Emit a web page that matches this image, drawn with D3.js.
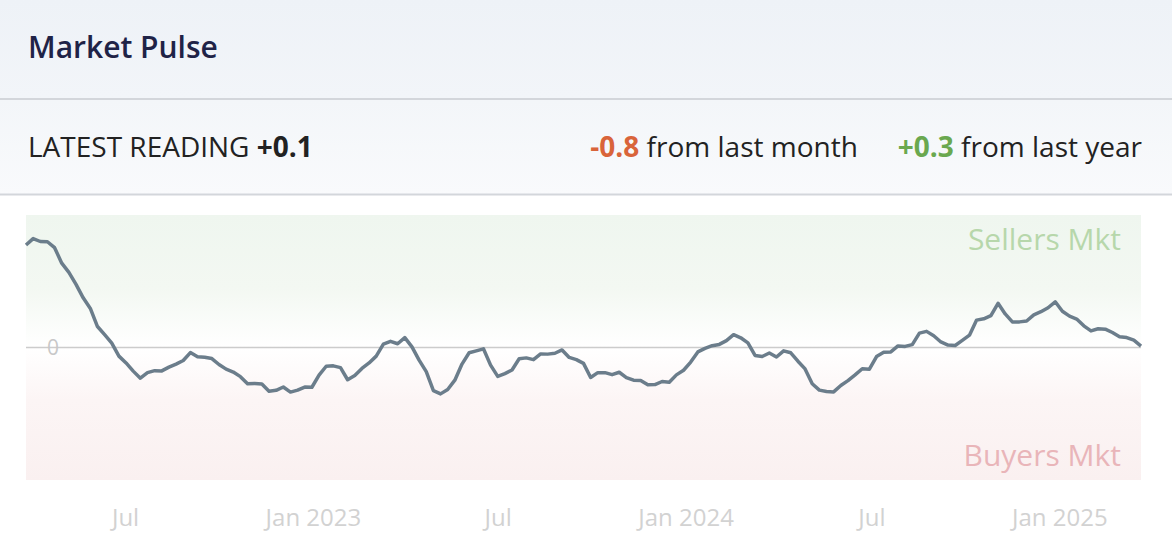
<!DOCTYPE html>
<html>
<head>
<meta charset="utf-8">
<script src="https://cdn.jsdelivr.net/npm/d3@7"></script>
<style>
  body { margin: 0; background: #fff; font-family: "Open Sans", sans-serif; }
  svg { display: block; }
</style>
</head>
<body>
<div id="pulse"></div>
<script>
// weekly readings, first week ending Saturday 2022-03-26
var startDate = "2022-03-26"
var values = [
  4.64, 4.93, 4.80, 4.79, 4.52, 3.82, 3.40, 2.86, 2.25, 1.77,
  0.95, 0.58, 0.20, -0.39, -0.70, -1.07, -1.39, -1.14, -1.05, -1.06,
  -0.89, -0.75, -0.59, -0.23, -0.42, -0.44, -0.50, -0.77, -0.98, -1.11,
  -1.32, -1.64, -1.63, -1.65, -1.98, -1.94, -1.79, -2.02, -1.93, -1.79,
  -1.80, -1.25, -0.85, -0.83, -0.91, -1.46, -1.27, -0.95, -0.70, -0.39,
  0.15, 0.28, 0.17, 0.45, 0.03, -0.57, -1.09, -1.95, -2.10, -1.90,
  -1.48, -0.75, -0.24, -0.15, -0.06, -0.80, -1.31, -1.18, -1.02, -0.51,
  -0.47, -0.55, -0.29, -0.30, -0.26, -0.11, -0.45, -0.55, -0.72, -1.36,
  -1.14, -1.14, -1.23, -1.12, -1.36, -1.48, -1.49, -1.69, -1.68, -1.54,
  -1.57, -1.24, -1.03, -0.66, -0.20, -0.04, 0.08, 0.14, 0.31, 0.58,
  0.44, 0.21, -0.36, -0.41, -0.25, -0.43, -0.15, -0.24, -0.62, -0.97,
  -1.64, -1.93, -1.99, -2.01, -1.72, -1.50, -1.24, -0.96, -0.98, -0.41,
  -0.22, -0.20, 0.07, 0.05, 0.13, 0.65, 0.73, 0.53, 0.25, 0.11,
  0.09, 0.32, 0.56, 1.24, 1.30, 1.44, 2.00, 1.52, 1.16, 1.16,
  1.20, 1.48, 1.62, 1.80, 2.07, 1.64, 1.42, 1.29, 0.98, 0.75,
  0.85, 0.83, 0.68, 0.49, 0.45, 0.33, 0.06
]
var tickDates = ["2022-07-01", "2023-01-01", "2023-07-01", "2024-01-01", "2024-07-01", "2025-01-01"]
var tickLabels = ["Jul", "Jan 2023", "Jul", "Jan 2024", "Jul", "Jan 2025"]
var latest = "+0.1"
var monthChange = "-0.8"
var yearChange = "+0.3"

var width = 1172
    height = 560

var parse = d3.timeParse("%Y-%m-%d")
var weeks = d3.timeSaturday.range(parse(startDate), d3.timeSaturday.offset(parse(startDate), values.length))
var data = values.map(function(v, i) { return {date: weeks[i], value: v} })

var svg = d3.select("#pulse")
  .append("svg")
    .attr("width", width)
    .attr("height", height)

var defs = svg.append("defs")

function grad(id, stops) {
  var g = defs.append("linearGradient").attr("id", id)
    .attr("x1", 0).attr("y1", 0).attr("x2", 0).attr("y2", 1)
  stops.forEach(function(s) {
    g.append("stop").attr("offset", s[0]).attr("stop-color", s[1])
  })
}
grad("head", [[0, "#eef2f7"], [1, "#f2f5f9"]])
grad("read", [[0, "#f3f6f9"], [1, "#f9fafc"]])
grad("sell", [[0, "#eff6ef"], [0.55, "#f3f8f2"], [1, "#ffffff"]])
grad("buy", [[0, "#ffffff"], [0.4, "#fcf5f5"], [1, "#faf0f0"]])

// header and reading strip
svg.append("rect").attr("x", 0).attr("y", 0).attr("width", width).attr("height", 98).attr("fill", "url(#head)")
svg.append("rect").attr("x", 0).attr("y", 100).attr("width", width).attr("height", 94).attr("fill", "url(#read)")
svg.append("rect").attr("x", 0).attr("y", 98).attr("width", width).attr("height", 2).attr("fill", "#d3d6db")
svg.append("rect").attr("x", 0).attr("y", 193.5).attr("width", width).attr("height", 2).attr("fill", "#d3d6db")

svg.append("text")
  .attr("x", 28).attr("y", 58)
  .style("font-size", "30px").style("font-weight", 600).attr("fill", "#1f2347")
  .text("Market Pulse")

var r = svg.append("text")
  .attr("x", 28).attr("y", 157)
  .style("font-size", "28px").attr("fill", "#222")
r.append("tspan").text("LATEST READING ")
r.append("tspan").style("font-weight", 700).text(latest)

var c = svg.append("text")
  .attr("x", 1142).attr("y", 157).attr("text-anchor", "end")
  .style("font-size", "28px").attr("fill", "#222")
c.append("tspan").style("font-weight", 700).attr("fill", "#d9643a").text(monthChange)
c.append("tspan").text(" from last month")
c.append("tspan").attr("dx", 40).style("font-weight", 700).attr("fill", "#6aa84f").text(yearChange)
c.append("tspan").text(" from last year")

// chart
var x = d3.scaleTime()
  .domain(d3.extent(data, function(d) { return d.date }))
  .range([26, 1141])

var y = d3.scaleLinear()
  .domain([-6, 6])
  .range([480, 215])

svg.append("rect")
  .attr("x", x.range()[0]).attr("y", y(6))
  .attr("width", x.range()[1] - x.range()[0]).attr("height", y(0) - y(6))
  .attr("fill", "url(#sell)")
svg.append("rect")
  .attr("x", x.range()[0]).attr("y", y(0))
  .attr("width", x.range()[1] - x.range()[0]).attr("height", y(-6) - y(0))
  .attr("fill", "url(#buy)")

svg.append("line")
  .attr("x1", x.range()[0]).attr("x2", x.range()[1])
  .attr("y1", y(0)).attr("y2", y(0))
  .attr("stroke", "#cccccc").attr("stroke-width", 1.5)

svg.append("text")
  .attr("x", 53).attr("y", y(0)).attr("dy", "0.35em").attr("text-anchor", "middle")
  .style("font-size", "21px").attr("fill", "#c8c8c8")
  .text("0")

svg.append("text")
  .attr("x", 1121).attr("y", 250).attr("text-anchor", "end")
  .style("font-size", "30px").attr("fill", "#b7d7ab")
  .text("Sellers Mkt")
svg.append("text")
  .attr("x", 1121).attr("y", 466).attr("text-anchor", "end")
  .style("font-size", "30px").attr("fill", "#e9b5b9")
  .text("Buyers Mkt")

svg.append("path")
  .datum(data)
  .attr("fill", "none")
  .attr("stroke", "#6b7d8b")
  .attr("stroke-width", 3.5)
  .attr("stroke-linejoin", "round")
  .attr("d", d3.line()
    .x(function(d) { return x(d.date) })
    .y(function(d) { return y(d.value) }))

var xAxis = svg.append("g")
  .attr("transform", "translate(0,494)")
  .call(d3.axisBottom(x)
    .tickValues(tickDates.map(parse))
    .tickFormat(function(d, i) { return tickLabels[i] })
    .tickSize(0)
    .tickPadding(15))
xAxis.select(".domain").remove()
xAxis.selectAll("text")
  .style("font-family", "Open Sans, sans-serif")
  .style("font-size", "24px")
  .attr("fill", "#d2d2d2")
</script>
</body>
</html>
